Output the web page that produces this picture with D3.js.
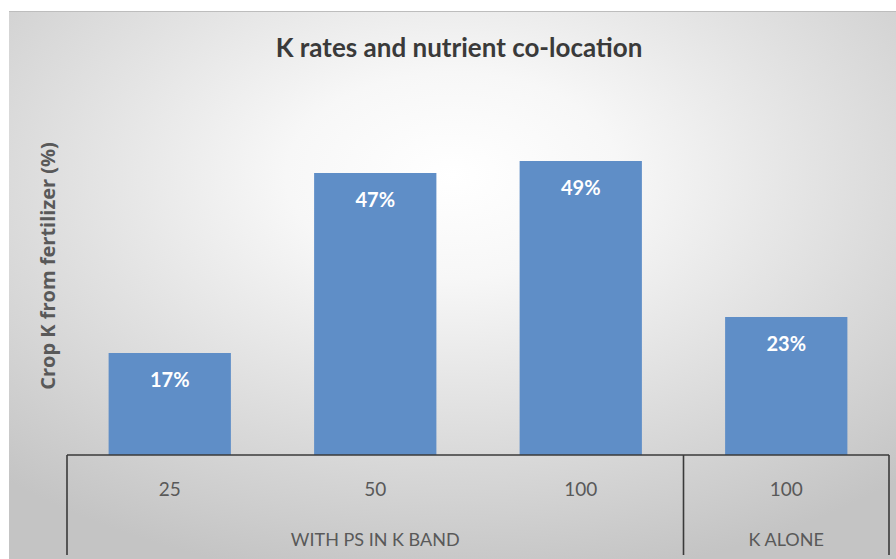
<!DOCTYPE html>
<html>
<head>
<meta charset="utf-8">
<script src="https://cdn.jsdelivr.net/npm/d3@7"></script>
<style>
  html, body { margin: 0; padding: 0; background: #fff; }
  svg { display: block; }
</style>
</head>
<body>
<svg id="chart" width="896" height="559"></svg>
<script>
// data
const rateLabels = ['25', '50', '100', '100'];
const values = [17, 47, 49, 23];
const groupNames = ['WITH PS IN K BAND', 'K ALONE'];
const groupSizes = [3, 1];
const chartTitle = 'K rates and nutrient co-location';
const yTitle = 'Crop K from fertilizer (%)';

const width = 896;
const height = 559;
const plot = { left: 67, right: 889, top: 95, bottom: 455 };

const svg = d3.select('#chart');

// radial grey background like the Excel slide
const defs = svg.append('defs');
const grad = defs.append('radialGradient')
  .attr('id', 'bg')
  .attr('cx', '50%').attr('cy', '30%').attr('r', '75%');
grad.append('stop').attr('offset', '0%').attr('stop-color', '#ffffff');
grad.append('stop').attr('offset', '25%').attr('stop-color', '#f7f7f7');
grad.append('stop').attr('offset', '100%').attr('stop-color', '#c4c4c4');

svg.append('rect')
  .attr('x', 9).attr('y', 11)
  .attr('width', width - 9).attr('height', height - 11)
  .attr('fill', 'url(#bg)');
svg.append('line')
  .attr('x1', 9).attr('x2', width).attr('y1', 11.5).attr('y2', 11.5)
  .attr('stroke', '#bdbdbd').attr('stroke-width', 1);

const x = d3.scaleBand()
  .domain(d3.range(values.length))
  .range([plot.left, plot.right])
  .paddingInner(0.405)
  .paddingOuter(0.2025);

const y = d3.scaleLinear()
  .domain([0, 60])
  .range([plot.bottom, plot.top]);

const halfGap = (x.step() - x.bandwidth()) / 2;

// title
svg.append('text')
  .attr('x', 459).attr('y', 57)
  .attr('text-anchor', 'middle')
  .attr('font-family', 'Lato, "Open Sans", sans-serif')
  .attr('font-weight', 'bold')
  .attr('font-size', 26)
  .attr('fill', '#3a3a3a')
  .text(chartTitle);

// y axis title
svg.append('text')
  .attr('transform', 'translate(50,266) rotate(-90)')
  .attr('text-anchor', 'middle')
  .attr('dominant-baseline', 'middle')
  .attr('font-family', '"Open Sans", Lato, sans-serif')
  .attr('font-weight', 'bold')
  .attr('font-size', 20)
  .attr('fill', '#595959')
  .text(yTitle);

// bars
svg.append('g')
  .selectAll('rect')
  .data(values)
  .join('rect')
  .attr('x', (d, i) => x(i))
  .attr('y', d => y(d))
  .attr('width', x.bandwidth())
  .attr('height', d => y(0) - y(d))
  .attr('fill', '#5f8ec7');

// value labels inside the bars
svg.append('g')
  .selectAll('text')
  .data(values)
  .join('text')
  .attr('x', (d, i) => x(i) + x.bandwidth() / 2)
  .attr('y', d => y(d) + 34)
  .attr('text-anchor', 'middle')
  .attr('font-family', 'Lato, "Open Sans", sans-serif')
  .attr('font-weight', 'bold')
  .attr('font-size', 20)
  .attr('fill', '#ffffff')
  .text(d => d + '%');

// multi-level category axis
const axis = svg.append('g')
  .attr('stroke', '#3a3a3a')
  .attr('stroke-width', 1.6);

axis.append('line')
  .attr('x1', plot.left).attr('x2', plot.right)
  .attr('y1', plot.bottom).attr('y2', plot.bottom);

let start = 0;
const groups = groupNames.map((name, gi) => {
  const g = { name, first: start, last: start + groupSizes[gi] - 1 };
  start += groupSizes[gi];
  return g;
});

const bounds = [x(0) - halfGap].concat(groups.map(g => x(g.last) + x.bandwidth() + halfGap));
axis.selectAll('line.sep')
  .data(bounds)
  .join('line')
  .attr('class', 'sep')
  .attr('x1', d => d).attr('x2', d => d)
  .attr('y1', plot.bottom).attr('y2', 555);

svg.append('g')
  .selectAll('text')
  .data(rateLabels)
  .join('text')
  .attr('x', (d, i) => x(i) + x.bandwidth() / 2)
  .attr('y', 496)
  .attr('text-anchor', 'middle')
  .attr('font-family', 'Lato, "Open Sans", sans-serif')
  .attr('font-size', 19)
  .attr('fill', '#595959')
  .text(d => d);

svg.append('g')
  .selectAll('text')
  .data(groups)
  .join('text')
  .attr('x', d => (x(d.first) - halfGap + x(d.last) + x.bandwidth() + halfGap) / 2)
  .attr('y', 546)
  .attr('text-anchor', 'middle')
  .attr('font-family', 'Lato, "Open Sans", sans-serif')
  .attr('font-size', 18)
  .attr('fill', '#595959')
  .text(d => d.name);
</script>
</body>
</html>
